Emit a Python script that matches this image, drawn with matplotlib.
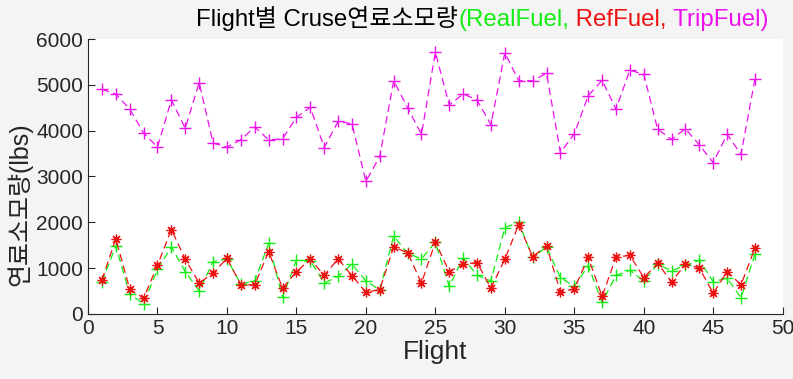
import matplotlib
matplotlib.use("Agg")
import matplotlib.pyplot as plt
from matplotlib.offsetbox import TextArea, HPacker, AnchoredOffsetbox

plt.rcParams['font.family'] = ['Liberation Sans', 'Noto Sans CJK KR', 'DejaVu Sans']

# data
flights = list(range(1, 49))
real_fuel = [700, 1480, 430, 220, 970, 1460, 920, 500, 1140, 1200,
             650, 720, 1540, 360, 1170, 1160, 670, 820, 1080, 720,
             520, 1700, 1320, 1200, 1560, 600, 1220, 840, 720, 1880,
             2000, 1230, 1460, 790, 600, 1050, 250, 840, 950, 720,
             1080, 940, 1060, 1170, 700, 780, 350, 1300]
ref_fuel = [740, 1640, 540, 340, 1060, 1840, 1190, 670, 890, 1210,
            635, 630, 1360, 560, 920, 1190, 840, 1200, 830, 470,
            530, 1460, 1335, 670, 1570, 920, 1080, 1120, 560, 1190,
            1950, 1250, 1480, 480, 540, 1230, 380, 1230, 1280, 790,
            1100, 700, 1080, 1000, 450, 920, 635, 1430]
trip_fuel = [4900, 4800, 4470, 3950, 3640, 4670, 4050, 5050, 3730, 3640,
             3800, 4080, 3800, 3820, 4290, 4510, 3630, 4200, 4150, 2890,
             3440, 5090, 4500, 3920, 5710, 4560, 4800, 4670, 4130, 5700,
             5090, 5090, 5250, 3520, 3930, 4760, 5100, 4470, 5320, 5230,
             4030, 3810, 4040, 3690, 3300, 3920, 3480, 5120]

x_ticks = [0, 5, 10, 15, 20, 25, 30, 35, 40, 45, 50]
y_ticks = [0, 1000, 2000, 3000, 4000, 5000, 6000]

green = '#11ee11'
red = '#ee1111'
magenta = '#ee11ee'
dash = (0, (6, 3.5))

fig = plt.figure(figsize=(7.93, 3.79), dpi=100, facecolor='#f4f4f4')
ax = fig.add_axes([0.111, 0.172, 0.876, 0.725])
ax.set_facecolor('white')

ax.plot(flights, real_fuel, linestyle=dash, color=green, marker='+',
        markersize=8, linewidth=0.9, markeredgewidth=1.0)
# MATLAB style asterisk marker
ax.plot(flights, ref_fuel, linestyle=dash, color=red, marker=(8, 2, 0),
        markersize=7, linewidth=0.9, markeredgewidth=0.9)
ax.plot(flights, trip_fuel, linestyle=dash, color=magenta, marker='+',
        markersize=8, linewidth=0.9, markeredgewidth=1.0)

ax.set_xlim(0, 50)
ax.set_ylim(0, 6000)
ax.set_xticks(x_ticks)
ax.set_yticks(y_ticks)
ax.tick_params(direction='in', length=5, labelsize=15, colors='#262626',
               width=0.8)
for s in ['top', 'right']:
    ax.spines[s].set_visible(False)
for s in ['left', 'bottom']:
    ax.spines[s].set_color('#262626')
    ax.spines[s].set_linewidth(0.8)

ax.set_xlabel('Flight', fontsize=19, color='#262626', labelpad=2)
fig.text(0.024, 0.46, '연료소모량(lbs)', rotation=90, fontsize=18,
         color='#262626', ha='center', va='center')

# multicoloured title
parts = [('Flight별 Cruse연료소모량', 'black'),
         ('(RealFuel,', green),
         (' RefFuel,', red),
         (' TripFuel)', magenta)]
boxes = [TextArea(t, textprops=dict(color=c, fontsize=17.3)) for t, c in parts]
title = HPacker(children=boxes, align='baseline', pad=0, sep=0)
anchored = AnchoredOffsetbox(loc='center', child=title, pad=0, frameon=False,
                             bbox_to_anchor=(0.608, 0.95),
                             bbox_transform=fig.transFigure, borderpad=0)
fig.add_artist(anchored)

fig.savefig('out.png', dpi=100, facecolor=fig.get_facecolor())
